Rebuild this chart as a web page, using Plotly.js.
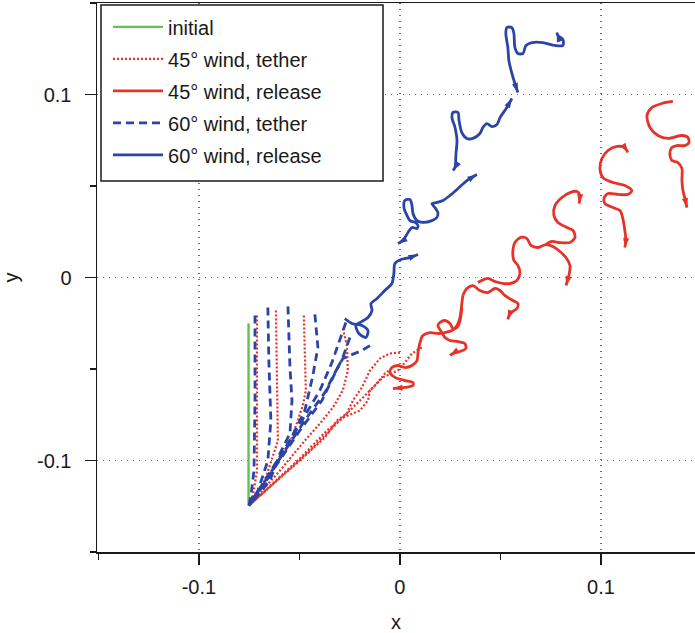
<!DOCTYPE html>
<html><head><meta charset="utf-8">
<script src="https://cdn.plot.ly/plotly-3.0.1.min.js"></script>
<style>html,body{margin:0;padding:0;background:#fff}#chart{width:695px;height:633px}</style>
</head><body><div id="chart"></div>
<script>
// ---------- data (x, y in plot units) ----------
const initialX = [-0.0753, -0.0753];
const initialY = [-0.1246, -0.0251];

// 45° wind, tether (dotted red)
const t45aX = [-0.0711,-0.0711,-0.0711,-0.0731,-0.0751];
const t45aY = [-0.0208,-0.0672,-0.1055,-0.1191,-0.1246];
const t45bX = [-0.0617,-0.0612,-0.0607,-0.0672,-0.0751];
const t45bY = [-0.0180,-0.0563,-0.0891,-0.1109,-0.1246];
const t45cX = [-0.0478,-0.0473,-0.0468,-0.0483,-0.0537,-0.0647,-0.0751];
const t45cY = [-0.0208,-0.0399,-0.0617,-0.0699,-0.0874,-0.1082,-0.1246];
const t45dX = [-0.0284,-0.0264,-0.0259,-0.0284,-0.0333,-0.0398,-0.0473,-0.0597,-0.0751];
const t45dY = [-0.0279,-0.0372,-0.0508,-0.0617,-0.0710,-0.0798,-0.0891,-0.1055,-0.1246];
const t45eX = [0.0000,-0.0050,-0.0100,-0.0149,-0.0189,-0.0234,-0.0264,-0.0313,-0.0373,-0.0498,-0.0751];
const t45eY = [-0.0410,-0.0415,-0.0443,-0.0508,-0.0601,-0.0672,-0.0743,-0.0781,-0.0874,-0.1000,-0.1246];
const t45fX = [0.0109,0.0060,0.0025,-0.0010,-0.0085,-0.0149,-0.0159,-0.0199,-0.0284,-0.0363,-0.0498,-0.0751];
const t45fY = [-0.0382,-0.0415,-0.0464,-0.0508,-0.0546,-0.0617,-0.0672,-0.0727,-0.0765,-0.0836,-0.0989,-0.1246];
const t45gX = [-0.0040,-0.0075,-0.0124,-0.0199,-0.0299,-0.0448,-0.0751];
const t45gY = [-0.0497,-0.0525,-0.0590,-0.0672,-0.0781,-0.0945,-0.1246];

// 60° wind, tether (dashed blue)
const t60aX = [-0.0721,-0.0721,-0.0726,-0.0741,-0.0751];
const t60aY = [-0.0208,-0.0672,-0.1055,-0.1191,-0.1246];
const t60bX = [-0.0657,-0.0652,-0.0642,-0.0657,-0.0706,-0.0751];
const t60bY = [-0.0164,-0.0454,-0.0781,-0.1000,-0.1164,-0.1246];
const t60cX = [-0.0557,-0.0547,-0.0537,-0.0547,-0.0597,-0.0647,-0.0751];
const t60cY = [-0.0158,-0.0492,-0.0672,-0.0852,-0.0962,-0.1109,-0.1246];
const t60dX = [-0.0423,-0.0408,-0.0433,-0.0473,-0.0547,-0.0647,-0.0751];
const t60dY = [-0.0202,-0.0382,-0.0535,-0.0727,-0.0891,-0.1082,-0.1246];
const t60eX = [-0.0269,-0.0299,-0.0338,-0.0398,-0.0458,-0.0547,-0.0751];
const t60eY = [-0.0246,-0.0344,-0.0464,-0.0617,-0.0727,-0.0891,-0.1246];
const t60fX = [-0.0249,-0.0284,-0.0333,-0.0388,-0.0498,-0.0751];
const t60fY = [-0.0328,-0.0437,-0.0546,-0.0672,-0.0836,-0.1246];
const t60gX = [-0.0149,-0.0189,-0.0249,-0.0284,-0.0323,-0.0373,-0.0473,-0.0751];
const t60gY = [-0.0372,-0.0399,-0.0426,-0.0443,-0.0519,-0.0628,-0.0781,-0.1246];

// 60° wind, release (solid blue)
const r60aX = [-0.0274,-0.0239,-0.0189,-0.0159,-0.0169,-0.0204,-0.0219,-0.0189,-0.0159,-0.0139,-0.0144,-0.0114,-0.0075,-0.0040,-0.0030,-0.0025,0.0005,0.0050,0.0090];
const r60aY = [-0.0224,-0.0251,-0.0262,-0.0290,-0.0328,-0.0306,-0.0262,-0.0240,-0.0219,-0.0180,-0.0142,-0.0115,-0.0071,-0.0033,0.0022,0.0076,0.0098,0.0109,0.0126];
const r60bX = [-0.0010,0.0015,0.0040,0.0060,0.0085,0.0090,0.0075,0.0050,0.0035,0.0020,0.0025,0.0050,0.0060,0.0065,0.0085,0.0114,0.0159,0.0184,0.0189,0.0174,0.0159,0.0184,0.0214,0.0249,0.0289,0.0333,0.0383];
const r60bY = [0.0186,0.0202,0.0246,0.0273,0.0268,0.0284,0.0301,0.0311,0.0339,0.0382,0.0421,0.0426,0.0393,0.0350,0.0311,0.0301,0.0311,0.0328,0.0355,0.0382,0.0404,0.0410,0.0421,0.0448,0.0486,0.0530,0.0563];
const r60cX = [0.0264,0.0274,0.0279,0.0284,0.0274,0.0259,0.0264,0.0289,0.0294,0.0308,0.0333,0.0363,0.0398,0.0413,0.0433,0.0458,0.0483,0.0498,0.0532,0.0557];
const r60cY = [0.0585,0.0601,0.0678,0.0749,0.0820,0.0874,0.0902,0.0902,0.0858,0.0792,0.0760,0.0760,0.0787,0.0820,0.0841,0.0825,0.0836,0.0874,0.0929,0.0978];
const r60dX = [0.0587,0.0572,0.0557,0.0542,0.0537,0.0527,0.0532,0.0557,0.0567,0.0572,0.0587,0.0612,0.0627,0.0657,0.0711,0.0771,0.0811,0.0811,0.0786,0.0781];
const r60dY = [0.1011,0.1060,0.1115,0.1186,0.1257,0.1333,0.1366,0.1366,0.1333,0.1257,0.1224,0.1224,0.1268,0.1284,0.1284,0.1268,0.1268,0.1300,0.1322,0.1339];

// 45° wind, release (solid red)
const r45aX = [0.0313,0.0308,0.0299,0.0284,0.0259,0.0224,0.0189,0.0149,0.0114,0.0100,0.0090,0.0085,0.0060,0.0025,-0.0010,-0.0040,-0.0050,-0.0025,0.0025,0.0065,0.0065,0.0025,-0.0035];
const r45aY = [-0.0098,-0.0142,-0.0219,-0.0262,-0.0290,-0.0301,-0.0306,-0.0301,-0.0317,-0.0355,-0.0410,-0.0454,-0.0481,-0.0492,-0.0481,-0.0492,-0.0519,-0.0546,-0.0563,-0.0574,-0.0590,-0.0601,-0.0607];
const r45bX = [0.0313,0.0333,0.0363,0.0398,0.0438,0.0473,0.0498,0.0522,0.0562,0.0587,0.0582,0.0547,0.0537];
const r45bY = [-0.0098,-0.0060,-0.0044,-0.0071,-0.0082,-0.0060,-0.0071,-0.0098,-0.0126,-0.0142,-0.0169,-0.0197,-0.0229];
const r45cX = [0.0308,0.0299,0.0284,0.0264,0.0249,0.0224,0.0199,0.0189,0.0209,0.0224,0.0249,0.0289,0.0323,0.0328,0.0299,0.0264,0.0249];
const r45cY = [-0.0164,-0.0235,-0.0273,-0.0279,-0.0251,-0.0235,-0.0246,-0.0262,-0.0301,-0.0328,-0.0344,-0.0350,-0.0361,-0.0388,-0.0404,-0.0415,-0.0426];
const r45dX = [0.0388,0.0438,0.0473,0.0517,0.0547,0.0582,0.0597,0.0587,0.0567,0.0562,0.0572,0.0602,0.0632,0.0652,0.0687,0.0726,0.0761,0.0796,0.0826,0.0846,0.0841,0.0826];
const r45dY = [-0.0027,-0.0005,-0.0022,-0.0033,-0.0033,-0.0016,0.0022,0.0066,0.0093,0.0148,0.0191,0.0219,0.0213,0.0175,0.0164,0.0180,0.0169,0.0142,0.0109,0.0066,0.0011,-0.0044];
const r45eX = [0.0726,0.0756,0.0796,0.0846,0.0871,0.0861,0.0831,0.0786,0.0766,0.0771,0.0806,0.0846,0.0881,0.0896,0.0891];
const r45eY = [0.0180,0.0197,0.0191,0.0191,0.0219,0.0257,0.0273,0.0301,0.0339,0.0393,0.0437,0.0464,0.0470,0.0448,0.0404];
const r45fX = [0.1134,0.1119,0.1080,0.1035,0.1005,0.0995,0.1010,0.1060,0.1119,0.1154,0.1134,0.1085,0.1035,0.1015,0.1020,0.1060,0.1095,0.1109,0.1119,0.1124,0.1119];
const r45fY = [0.0683,0.0710,0.0716,0.0694,0.0650,0.0596,0.0546,0.0519,0.0503,0.0475,0.0454,0.0454,0.0459,0.0432,0.0404,0.0382,0.0366,0.0322,0.0257,0.0202,0.0164];
const r45gX = [0.1358,0.1303,0.1254,0.1229,0.1244,0.1284,0.1333,0.1403,0.1433,0.1438,0.1418,0.1378,0.1353,0.1343,0.1353,0.1383,0.1403,0.1403,0.1408,0.1418,0.1428];
const r45gY = [0.0962,0.0951,0.0929,0.0885,0.0820,0.0776,0.0760,0.0776,0.0765,0.0738,0.0721,0.0721,0.0710,0.0678,0.0639,0.0628,0.0596,0.0530,0.0475,0.0432,0.0382];

const seriesNames = ['initial','45° wind, tether','45° wind, release','60° wind, tether','60° wind, release'];
const xTickVals = [-0.1, 0, 0.1];
const xTickText = ['-0.1', '0', '0.1'];
const yTickVals = [-0.1, 0, 0.1];
const yTickText = ['-0.1', '0', '0.1'];
const minorTickVals = [-0.15, -0.05, 0.05, 0.15];

// ---------- layout constants ----------
const W = 695, H = 633;
const M = {l: 97, r: 0, t: 3, b: 81};
const xRange = [-0.1507, 0.1468], yRange = [-0.15, 0.15];
const kx = (W - M.l - M.r) / (xRange[1] - xRange[0]);
const ky = (H - M.t - M.b) / (yRange[1] - yRange[0]);
const RED = '#e6332a', BLUE = '#2b45a6', GREEN = '#5cc64c';
const FONT = 'Liberation Sans, Arial, Helvetica, sans-serif';

function join(list) {
  const x = [], y = [];
  list.forEach((c, i) => {
    if (i) { x.push(null); y.push(null); }
    x.push(...c[0]); y.push(...c[1]);
  });
  return {x, y};
}
function arrows(specs, color) {
  const x = [], y = [], ang = [];
  specs.forEach(([cx, cy, end]) => {
    const n = cx.length;
    const i1 = end ? n - 1 : 0, i0 = end ? n - 2 : 1;
    x.push(cx[i1]); y.push(cy[i1]);
    const dx = (cx[i1] - cx[i0]) * kx, dy = (cy[i1] - cy[i0]) * ky;
    ang.push(Math.atan2(dx, dy) * 180 / Math.PI);
  });
  return {type: 'scatter', mode: 'markers', x, y, showlegend: false, hoverinfo: 'skip',
    marker: {symbol: 'arrow', size: 10, color, angle: ang, line: {width: 0}}};
}

const t45 = join([[t45aX,t45aY],[t45bX,t45bY],[t45cX,t45cY],[t45dX,t45dY],[t45eX,t45eY],[t45fX,t45fY],[t45gX,t45gY]]);
const t60 = join([[t60aX,t60aY],[t60bX,t60bY],[t60cX,t60cY],[t60dX,t60dY],[t60eX,t60eY],[t60fX,t60fY],[t60gX,t60gY]]);
const r45 = join([[r45aX,r45aY],[r45bX,r45bY],[r45cX,r45cY],[r45dX,r45dY],[r45eX,r45eY],[r45fX,r45fY],[r45gX,r45gY]]);
const r60 = join([[r60aX,r60aY],[r60bX,r60bY],[r60cX,r60cY],[r60dX,r60dY]]);

const traces = [
  {type:'scatter', mode:'lines', name: seriesNames[0], legendgroup:'g0', x: initialX, y: initialY,
   line:{color: GREEN, width: 2.4}, hoverinfo:'skip'},
  {type:'scatter', mode:'lines', name: seriesNames[1], legendgroup:'g1', x: t45.x, y: t45.y,
   line:{color: RED, width: 2.2, dash: '2px,2px'}, hoverinfo:'skip'},
  {type:'scatter', mode:'lines', name: seriesNames[2], legendgroup:'g2', x: r45.x, y: r45.y,
   line:{color: RED, width: 2.8, shape:'spline', smoothing: 0.8}, hoverinfo:'skip'},
  {type:'scatter', mode:'lines', name: seriesNames[3], legendgroup:'g3', x: t60.x, y: t60.y,
   line:{color: BLUE, width: 2.8, dash: '8px,5px'}, hoverinfo:'skip'},
  {type:'scatter', mode:'lines', name: seriesNames[4], legendgroup:'g4', x: r60.x, y: r60.y,
   line:{color: BLUE, width: 2.8, shape:'spline', smoothing: 0.8}, hoverinfo:'skip'},
  arrows([[r45aX,r45aY,true],[r45bX,r45bY,true],[r45cX,r45cY,true],[r45dX,r45dY,true],
          [r45eX,r45eY,true],[r45fX,r45fY,false],[r45fX,r45fY,true],[r45gX,r45gY,true]], RED),
  arrows([[r60aX,r60aY,true],[r60bX,r60bY,false],[r60bX,r60bY,true],[r60cX,r60cY,false],
          [r60cX,r60cY,true],[r60dX,r60dY,false],[r60dX,r60dY,true],[t60eX,t60eY,true]], BLUE)
];

const axisCommon = {
  showline: true, linecolor: '#1a1a1a', linewidth: 1.5, mirror: true,
  ticks: 'outside', ticklen: 11, tickwidth: 1.5, tickcolor: '#1a1a1a',
  showgrid: true, gridcolor: '#6e6e6e', gridwidth: 1.3, griddash: '1px,5px',
  zeroline: false, tickmode: 'array',
  tickfont: {family: FONT, size: 20, color: '#1a1a1a'},
  minor: {tickmode: 'array', tickvals: minorTickVals, ticklen: 6, tickwidth: 1.5, tickcolor: '#1a1a1a', showgrid: false}
};

const layout = {
  width: W, height: H, margin: M,
  paper_bgcolor: '#fff', plot_bgcolor: '#fff',
  font: {family: FONT, size: 20, color: '#1a1a1a'},
  showlegend: true,
  xaxis: Object.assign({}, axisCommon, {range: xRange, tickvals: xTickVals, ticktext: xTickText,
    ticklabelstandoff: 5,
    title: {text: 'x', font: {family: FONT, size: 20, color: '#1a1a1a'}, standoff: 18}}),
  yaxis: Object.assign({}, axisCommon, {range: yRange, tickvals: yTickVals, ticktext: yTickText,
    ticklabelstandoff: 9,
    title: {text: 'y', font: {family: FONT, size: 20, color: '#1a1a1a'}, standoff: 20}}),
  legend: {x: 0.0184, y: 0.992, xanchor: 'left', yanchor: 'top', bgcolor: 'rgba(0,0,0,0)',
    borderwidth: 0, itemwidth: 50, tracegroupgap: 3, traceorder: 'grouped',
    font: {family: FONT, size: 20, color: '#1a1a1a'}},
  shapes: [{type: 'rect', xref: 'paper', yref: 'paper', x0: 0.0067, x1: 0.4783, y0: 0.6758, y1: 0.9964,
    line: {color: '#1a1a1a', width: 1.5}, fillcolor: '#fff', layer: 'above'}]
};

Plotly.newPlot('chart', traces, layout, {staticPlot: true, displayModeBar: false});
</script></body></html>
